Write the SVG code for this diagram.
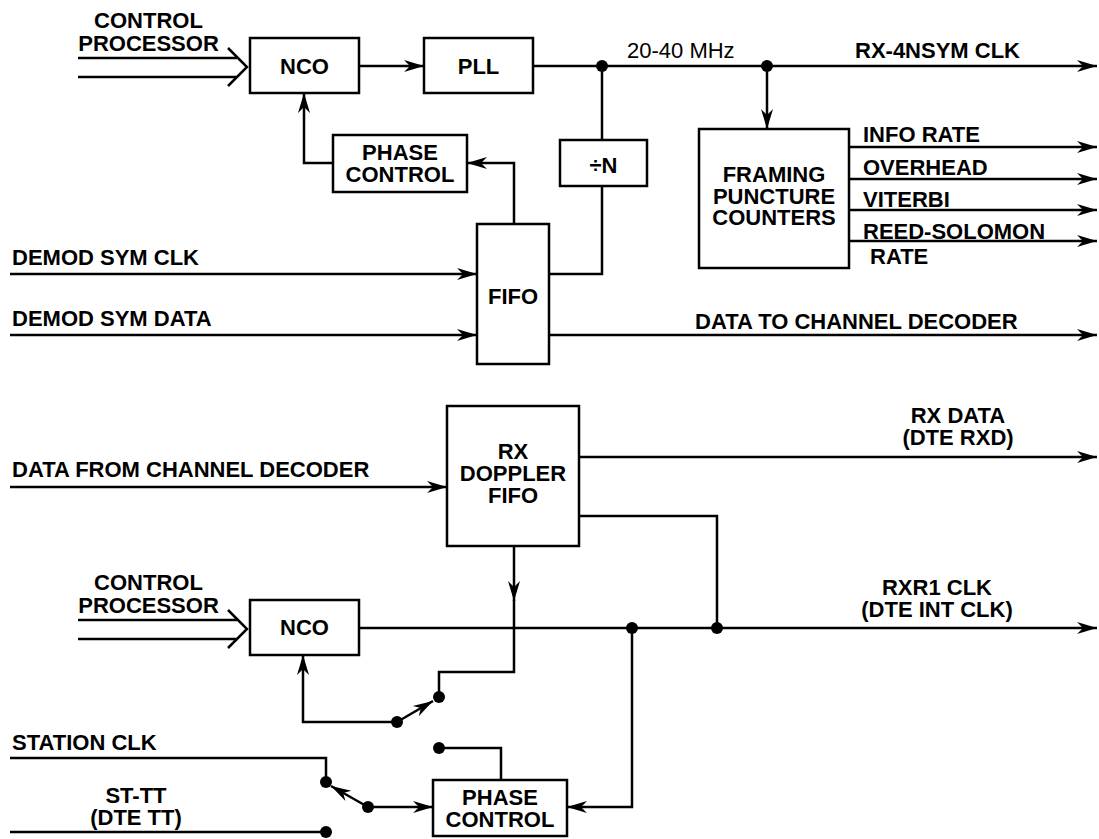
<svg xmlns="http://www.w3.org/2000/svg" width="1099" height="839" viewBox="0 0 1099 839">
<defs>
<marker id="ah" markerUnits="userSpaceOnUse" markerWidth="22" markerHeight="14" refX="20" refY="6" orient="auto" overflow="visible">
<path d="M0,0 L20,6 L0,12 L6,6 Z" fill="#000"/>
</marker>
<style>
.box{fill:#fff;stroke:#000;stroke-width:2.5}
.ln{fill:none;stroke:#000;stroke-width:2.5}
.arr{marker-end:url(#ah)}
.dot{fill:#000}
.t{font-family:"Liberation Sans",Arial,Helvetica,sans-serif;font-weight:bold;font-size:22px;fill:#000}
.tm{text-anchor:middle}
.n{font-weight:normal}
</style>
</defs>
<rect width="1099" height="839" fill="#fff"/>

<g id="connectors">
<!-- top: control processor bus -->
<path class="ln" d="M78,58 H237 M78,77 H237 M228,48 L247,67 L228,86"/>
<path class="ln arr" d="M359,66 H424"/>
<path class="ln arr" d="M533,66 H1097"/>
<path class="ln arr" d="M767,66 V129"/>
<path class="ln" d="M602,66 V140"/>
<path class="ln" d="M602,186 V274 H549"/>
<path class="ln arr" d="M514,224 V163 H467"/>
<path class="ln arr" d="M333,163 H304 V93"/>
<path class="ln arr" d="M10,274 H477"/>
<path class="ln arr" d="M10,335 H477"/>
<path class="ln arr" d="M549,335 H1097"/>
<path class="ln arr" d="M849,147 H1097"/>
<path class="ln arr" d="M849,179 H1097"/>
<path class="ln arr" d="M849,210 H1097"/>
<path class="ln arr" d="M849,241 H1097"/>
<circle class="dot" cx="602" cy="66" r="6"/>
<circle class="dot" cx="767" cy="66" r="6"/>

<!-- bottom -->
<path class="ln arr" d="M10,487 H447"/>
<path class="ln arr" d="M579,457 H1097"/>
<path class="ln" d="M579,516 H717 V628"/>
<path class="ln" d="M78,620 H237 M78,639 H237 M228,610 L247,629 L228,648"/>
<path class="ln arr" d="M358,628 H1097"/>
<path class="ln arr" d="M514,546 V601"/>
<path class="ln" d="M514,600 V672 H439 V697"/>
<path class="ln arr" d="M397,722 L433,701"/>
<path class="ln arr" d="M397,722 H303 V655"/>
<path class="ln" d="M439,748 H501 V780"/>
<path class="ln arr" d="M632,628 V807 H567"/>
<path class="ln" d="M10,758 H326 V782"/>
<path class="ln" d="M10,832 H326"/>
<path class="ln arr" d="M368,807 L331,786"/>
<path class="ln arr" d="M368,807 H433"/>
<circle class="dot" cx="632" cy="628" r="6"/>
<circle class="dot" cx="717" cy="628" r="6"/>
<circle class="dot" cx="439" cy="697" r="6"/>
<circle class="dot" cx="397" cy="722" r="6"/>
<circle class="dot" cx="439" cy="748" r="6"/>
<circle class="dot" cx="326" cy="782" r="6"/>
<circle class="dot" cx="326" cy="832" r="6"/>
<circle class="dot" cx="368" cy="807" r="6"/>
</g>

<g id="labels">
<text class="t tm" x="148.5" y="28">CONTROL</text>
<text class="t tm" x="148.5" y="51">PROCESSOR</text>
<text class="t n" x="627" y="58">20-40 MHz</text>
<text class="t" x="855" y="58">RX-4NSYM CLK</text>
<text class="t" x="863" y="142">INFO RATE</text>
<text class="t" x="863" y="175">OVERHEAD</text>
<text class="t" x="863" y="207">VITERBI</text>
<text class="t" x="863" y="239">REED-SOLOMON</text>
<text class="t" x="870" y="264">RATE</text>
<text class="t" x="12" y="265">DEMOD SYM CLK</text>
<text class="t" x="12" y="326">DEMOD SYM DATA</text>
<text class="t" x="695" y="329">DATA TO CHANNEL DECODER</text>
<text class="t" x="12" y="477">DATA FROM CHANNEL DECODER</text>
<text class="t tm" x="958" y="423">RX DATA</text>
<text class="t tm" x="958" y="445">(DTE RXD)</text>
<text class="t tm" x="937" y="595">RXR1 CLK</text>
<text class="t tm" x="937" y="617">(DTE INT CLK)</text>
<text class="t tm" x="148.5" y="590">CONTROL</text>
<text class="t tm" x="148.5" y="613">PROCESSOR</text>
<text class="t" x="12" y="750">STATION CLK</text>
<text class="t tm" x="136" y="803">ST-TT</text>
<text class="t tm" x="136" y="825">(DTE TT)</text>
</g>

<g id="nco-top">
<rect class="box" x="250" y="38" width="109" height="55"/>
<text class="t tm" x="304.5" y="74">NCO</text>
</g>
<g id="pll">
<rect class="box" x="424" y="38" width="109" height="55"/>
<text class="t tm" x="478.5" y="74">PLL</text>
</g>
<g id="phase-control-top">
<rect class="box" x="333" y="135" width="134" height="57"/>
<text class="t tm" x="400" y="160">PHASE</text>
<text class="t tm" x="400" y="182">CONTROL</text>
</g>
<g id="divn">
<rect class="box" x="560" y="140" width="87" height="46"/>
<text class="t tm" x="603.5" y="173">÷N</text>
</g>
<g id="framing">
<rect class="box" x="699" y="129" width="150" height="139"/>
<text class="t tm" x="774" y="182">FRAMING</text>
<text class="t tm" x="774" y="204">PUNCTURE</text>
<text class="t tm" x="774" y="225">COUNTERS</text>
</g>
<g id="fifo">
<rect class="box" x="477" y="224" width="72" height="140"/>
<text class="t tm" x="513" y="304">FIFO</text>
</g>
<g id="rx-doppler-fifo">
<rect class="box" x="447" y="406" width="132" height="140"/>
<text class="t tm" x="513" y="459">RX</text>
<text class="t tm" x="513" y="481">DOPPLER</text>
<text class="t tm" x="513" y="503">FIFO</text>
</g>
<g id="nco-bottom">
<rect class="box" x="250" y="600" width="109" height="55"/>
<text class="t tm" x="304.5" y="635">NCO</text>
</g>
<g id="phase-control-bottom">
<rect class="box" x="433" y="780" width="134" height="56"/>
<text class="t tm" x="500" y="805">PHASE</text>
<text class="t tm" x="500" y="827">CONTROL</text>
</g>
</svg>
